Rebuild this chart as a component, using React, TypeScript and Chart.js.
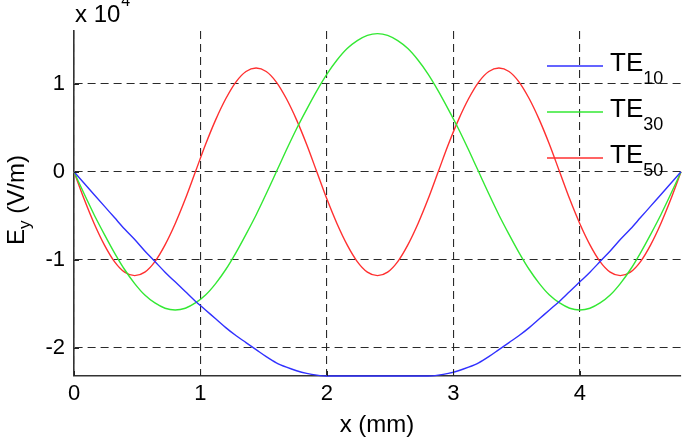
import React, { useEffect, useRef } from "react";
import { Chart, registerables } from "chart.js";

Chart.register(...registerables);

// x positions (mm)
const xs = [
  0, 0.08, 0.16, 0.24, 0.32, 0.4, 0.48, 0.56, 0.64, 0.72,
  0.8, 0.88, 0.96, 1.04, 1.12, 1.2, 1.28, 1.36, 1.44, 1.52,
  1.6, 1.68, 1.76, 1.84, 1.92, 2, 2.08, 2.16, 2.24, 2.32,
  2.4,
  2.48, 2.56, 2.64, 2.72, 2.8, 2.88, 2.96, 3.04, 3.12, 3.2,
  3.28, 3.36, 3.44, 3.52, 3.6, 3.68, 3.76, 3.84, 3.92, 4,
  4.08, 4.16, 4.24, 4.32, 4.4, 4.48, 4.56, 4.64, 4.72, 4.8,
];

// Ey values in units of 1e4 V/m
const te10 = [
  0, -0.13, -0.26, -0.39, -0.52, -0.65, -0.77, -0.9, -1.02, -1.14,
  -1.25, -1.36, -1.47, -1.57, -1.67, -1.77, -1.86, -1.94, -2.02, -2.1,
  -2.17, -2.22, -2.26, -2.29, -2.31, -2.32, -2.32, -2.32, -2.32, -2.32,
  -2.32,
  -2.32, -2.32, -2.32, -2.32, -2.32, -2.31, -2.29, -2.26, -2.22, -2.17,
  -2.1, -2.02, -1.94, -1.86, -1.77, -1.67, -1.57, -1.47, -1.36, -1.25,
  -1.14, -1.02, -0.9, -0.77, -0.65, -0.52, -0.39, -0.26, -0.13, 0,
];

const te30 = [
  0, -0.25, -0.49, -0.71, -0.92, -1.11, -1.27, -1.4, -1.49, -1.55,
  -1.57, -1.55, -1.49, -1.4, -1.27, -1.11, -0.92, -0.71, -0.49, -0.25,
  0, 0.25, 0.49, 0.71, 0.92, 1.11, 1.27, 1.4, 1.49, 1.55,
  1.57,
  1.55, 1.49, 1.4, 1.27, 1.11, 0.92, 0.71, 0.49, 0.25, 0,
  -0.25, -0.49, -0.71, -0.92, -1.11, -1.27, -1.4, -1.49, -1.55, -1.57,
  -1.55, -1.49, -1.4, -1.27, -1.11, -0.92, -0.71, -0.49, -0.25, 0,
];

const te50 = [
  0, -0.31, -0.59, -0.83, -1.02, -1.14, -1.18, -1.14, -1.02, -0.83,
  -0.59, -0.31, 0, 0.31, 0.59, 0.83, 1.02, 1.14, 1.18, 1.14,
  1.02, 0.83, 0.59, 0.31, 0, -0.31, -0.59, -0.83, -1.02, -1.14,
  -1.18,
  -1.14, -1.02, -0.83, -0.59, -0.31, 0, 0.31, 0.59, 0.83, 1.02,
  1.14, 1.18, 1.14, 1.02, 0.83, 0.59, 0.31, 0, -0.31, -0.59,
  -0.83, -1.02, -1.14, -1.18, -1.14, -1.02, -0.83, -0.59, -0.31, 0,
];

const seriesNames = ["TE", "TE", "TE"];
const seriesSubs = ["10", "30", "50"];
const seriesColors = ["#3030ff", "#33e833", "#ff3030"];
const seriesValues = [te10, te30, te50];

const xMin = 0;
const xMax = 4.8;
const yMin = -2.32;
const yMax = 1.6;

const FONT = "'Liberation Sans', Arial, Helvetica, sans-serif";

const textPlugin = {
  id: "matlabText",
  afterDraw(chart: any) {
    const ctx = chart.ctx;
    const area = chart.chartArea;
    ctx.save();
    ctx.fillStyle = "#000";
    ctx.textBaseline = "alphabetic";

    // inward tick marks
    ctx.strokeStyle = "#222";
    ctx.lineWidth = 1;
    ctx.setLineDash([]);
    const xs_ = chart.scales.x;
    const ys_ = chart.scales.y;
    xs_.ticks.forEach((t: any) => {
      const px = Math.round(xs_.getPixelForValue(t.value)) + 0.5;
      ctx.beginPath();
      ctx.moveTo(px, area.bottom);
      ctx.lineTo(px, area.bottom - 5);
      ctx.stroke();
    });
    ys_.ticks.forEach((t: any) => {
      const py = Math.round(ys_.getPixelForValue(t.value)) + 0.5;
      ctx.beginPath();
      ctx.moveTo(area.left, py);
      ctx.lineTo(area.left + 5, py);
      ctx.stroke();
    });

    // exponent label
    ctx.textAlign = "left";
    ctx.font = `24px ${FONT}`;
    ctx.fillText("x 10", area.left + 1, 22);
    const w10 = ctx.measureText("x 10").width;
    ctx.font = `16px ${FONT}`;
    ctx.fillText("4", area.left + 2 + w10, 6);

    // x title
    ctx.font = `24px ${FONT}`;
    ctx.textAlign = "center";
    ctx.fillText("x (mm)", 377, 432);

    // y title (rotated)
    ctx.save();
    ctx.translate(24, 200);
    ctx.rotate(-Math.PI / 2);
    ctx.textAlign = "left";
    ctx.font = `24px ${FONT}`;
    const wE = ctx.measureText("E").width;
    ctx.font = `17px ${FONT}`;
    const wy = ctx.measureText("y").width;
    ctx.font = `24px ${FONT}`;
    const wRest = ctx.measureText(" (V/m)").width;
    const total = wE + wy + wRest;
    let cx = -total / 2;
    ctx.fillText("E", cx, 0);
    cx += wE;
    ctx.font = `17px ${FONT}`;
    ctx.fillText("y", cx, 6);
    cx += wy;
    ctx.font = `24px ${FONT}`;
    ctx.fillText(" (V/m)", cx, 0);
    ctx.restore();

    // legend
    const legX0 = 547;
    const legX1 = 603;
    const legY0 = 66;
    const legDy = 46;
    for (let i = 0; i < seriesNames.length; i++) {
      const y = legY0 + i * legDy;
      ctx.strokeStyle = seriesColors[i];
      ctx.lineWidth = 1.4;
      ctx.beginPath();
      ctx.moveTo(legX0, y);
      ctx.lineTo(legX1, y);
      ctx.stroke();
      ctx.fillStyle = "#000";
      ctx.textAlign = "left";
      ctx.font = `26px ${FONT}`;
      ctx.fillText(seriesNames[i], 610, y + 5);
      const wt = ctx.measureText(seriesNames[i]).width;
      ctx.font = `18px ${FONT}`;
      ctx.fillText(seriesSubs[i], 610 + wt, y + 18);
    }
    ctx.restore();
  },
};

export default function App() {
  const canvasRef = useRef<HTMLCanvasElement | null>(null);

  useEffect(() => {
    document.body.style.margin = "0";
    const canvas = canvasRef.current;
    if (!canvas) return;
    const chart = new Chart(canvas, {
      type: "line",
      data: {
        datasets: seriesValues.map((vals, i) => ({
          label: seriesNames[i] + seriesSubs[i],
          data: xs.map((x, j) => ({ x, y: vals[j] })),
          borderColor: seriesColors[i],
          backgroundColor: seriesColors[i],
          borderWidth: 1.4,
          pointRadius: 0,
          cubicInterpolationMode: "monotone",
          fill: false,
          clip: 3,
        })),
      },
      options: {
        animation: false,
        responsive: false,
        devicePixelRatio: 1,
        layout: { padding: { top: 31, right: 7, left: 0, bottom: 0 } },
        plugins: {
          legend: { display: false },
          tooltip: { enabled: false },
        },
        scales: {
          x: {
            type: "linear",
            min: xMin,
            max: xMax,
            afterFit: (s: any) => {
              s.height = 61;
            },
            ticks: {
              stepSize: 1,
              includeBounds: false,
              color: "#000",
              font: { size: 22, family: FONT },
              padding: 5,
              maxRotation: 0,
            },
            grid: {
              color: "#2a2a2a",
              lineWidth: 1.1,
              drawTicks: false,
            },
            border: { display: true, color: "#333", width: 1.6, dash: [8, 5] },
          },
          y: {
            type: "linear",
            min: yMin,
            max: yMax,
            afterFit: (s: any) => {
              s.width = 74;
            },
            ticks: {
              stepSize: 1,
              includeBounds: false,
              color: "#000",
              font: { size: 22, family: FONT },
              padding: 9,
            },
            grid: {
              color: "#2a2a2a",
              lineWidth: 1.1,
              drawTicks: false,
            },
            border: { display: true, color: "#333", width: 1.6, dash: [8, 5] },
          },
        },
      },
      plugins: [textPlugin],
    } as any);
    return () => chart.destroy();
  }, []);

  return (
    <canvas
      ref={canvasRef}
      width={688}
      height={437}
      style={{ display: "block", width: 688, height: 437 }}
    />
  );
}
